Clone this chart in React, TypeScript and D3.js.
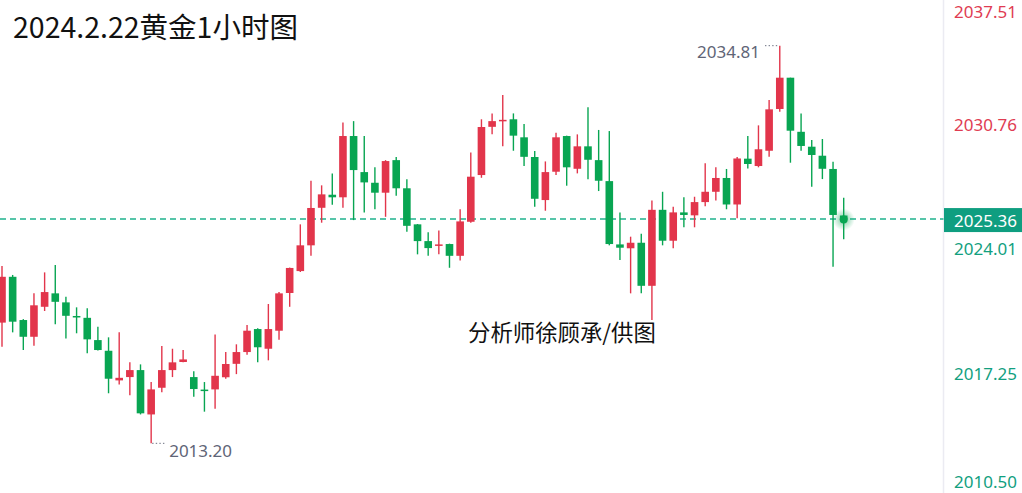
import React from "react";
import * as d3 from "d3";

const opens = [2019.76,2022.25,2019.90,2018.99,2020.62,2021.35,2020.86,2020.12,2020.02,2018.81,2018.23,2016.62,2016.80,2017.18,2014.77,2016.22,2017.18,2017.62,2016.80,2016.12,2016.13,2016.79,2017.52,2018.16,2019.41,2018.34,2019.32,2021.37,2022.56,2023.96,2026.00,2026.71,2026.57,2029.90,2027.94,2027.36,2026.82,2028.59,2027.06,2025.10,2024.19,2023.96,2024.03,2023.39,2025.24,2027.78,2030.40,2030.74,2030.81,2029.83,2028.76,2026.42,2027.96,2029.90,2028.12,2029.34,2028.59,2027.45,2024.01,2023.80,2024.10,2021.76,2025.89,2024.21,2025.75,2025.59,2026.31,2026.87,2027.62,2026.18,2028.67,2028.27,2029.10,2031.37,2033.07,2030.13,2029.32,2028.83,2028.11,2025.58];
const highs = [2022.84,2022.35,2019.95,2021.35,2022.49,2022.89,2021.17,2020.59,2020.54,2019.54,2018.96,2019.23,2017.60,2017.49,2016.53,2018.49,2018.34,2018.27,2017.11,2016.53,2019.12,2018.16,2018.58,2019.63,2019.45,2020.77,2021.42,2022.75,2025.10,2027.47,2027.22,2027.87,2030.64,2030.71,2029.90,2028.20,2028.59,2028.76,2027.55,2025.12,2024.67,2024.76,2024.05,2025.92,2029.01,2030.81,2031.13,2032.13,2031.13,2030.55,2029.08,2028.52,2030.08,2029.92,2029.99,2031.46,2030.23,2030.17,2025.75,2024.43,2024.59,2026.40,2026.87,2026.06,2026.57,2026.60,2028.42,2028.20,2028.11,2028.76,2029.90,2030.48,2031.86,2034.81,2033.07,2031.13,2029.68,2029.74,2028.50,2026.55];
const lows = [2018.45,2019.23,2018.27,2018.50,2020.39,2019.67,2018.90,2019.18,2018.09,2018.24,2015.92,2016.40,2015.81,2014.77,2013.20,2015.97,2016.80,2017.60,2015.73,2014.92,2015.08,2016.71,2016.96,2018.01,2017.60,2017.71,2018.83,2020.62,2022.51,2023.39,2025.19,2026.17,2026.00,2025.33,2025.75,2025.92,2025.51,2026.65,2024.70,2023.47,2023.39,2023.47,2022.74,2023.14,2025.19,2027.63,2029.99,2029.34,2029.10,2028.27,2026.06,2025.84,2027.78,2027.20,2027.87,2027.55,2026.91,2023.96,2023.16,2021.35,2021.35,2019.90,2023.96,2023.80,2024.94,2024.94,2026.08,2026.40,2025.92,2025.43,2028.13,2028.20,2028.77,2031.22,2028.45,2029.10,2027.14,2027.56,2022.80,2024.29];
const closes = [2022.25,2019.81,2018.99,2020.70,2021.42,2020.89,2020.13,2020.05,2018.85,2018.27,2016.71,2016.76,2017.18,2014.83,2016.13,2017.18,2017.60,2017.76,2016.15,2016.08,2016.87,2017.51,2018.16,2019.32,2018.42,2019.41,2021.35,2022.73,2023.96,2025.99,2026.73,2026.57,2029.90,2028.05,2027.38,2026.82,2028.54,2027.06,2025.02,2024.19,2023.81,2024.01,2023.39,2025.26,2027.69,2030.39,2030.71,2030.78,2029.92,2028.77,2026.49,2027.94,2029.83,2028.20,2029.34,2028.61,2027.47,2024.03,2023.83,2024.10,2021.76,2025.89,2024.21,2025.75,2025.61,2026.31,2026.87,2027.62,2026.18,2028.68,2028.38,2029.18,2031.35,2033.07,2030.19,2029.36,2028.87,2028.12,2025.61,2025.36];

const tickValues = [2037.51, 2030.76, 2024.01, 2017.25, 2010.5];
const lastPrice = 2025.36;
const title = "2024.2.22黄金1小时图";
const watermark = "分析师徐顾承/供图";

const RED = "#e2354b";
const GREEN = "#08a552";
const TEAL = "#12a07f";

export default function App() {
  const W = 1022, H = 493;
  const n = opens.length;
  const x = d3.scaleLinear().domain([0, n - 1]).range([2, 843.7]);
  const y = d3.scaleLinear().domain([2010.5, 2037.51]).range([493, -4]);
  const bodyW = 7.6;
  const hiIdx = d3.maxIndex(highs);
  const loIdx = d3.minIndex(lows);
  const lastX = x(n - 1);
  const lastY = y(lastPrice);
  const lineY = Math.floor(lastY);
  const axisX = 943.5;
  const fmt = d3.format(".2f");

  return (
    <div style={{ position: "absolute", left: 0, top: 0 }}>
      <svg width={W} height={H} style={{ display: "block", background: "#fff" }}>
        <defs>
          <radialGradient id="glow">
            <stop offset="0%" stopColor={GREEN} stopOpacity={0.55} />
            <stop offset="100%" stopColor={GREEN} stopOpacity={0} />
          </radialGradient>
        </defs>
        <rect x={0} y={0} width={W} height={H} fill="#fff" />
        <line x1={axisX} x2={axisX} y1={0} y2={H} stroke="#ebebf2" strokeWidth={1.5} />
        <line x1={0} x2={axisX} y1={lineY} y2={lineY} stroke="#1fb28d" strokeWidth={1.5} strokeDasharray="6,4" />
        {opens.map((o, i) => {
          const c = closes[i];
          const up = c >= o;
          const col = up ? RED : GREEN;
          const cx = x(i);
          const top = y(Math.max(o, c));
          const bot = y(Math.min(o, c));
          return (
            <g key={i}>
              <line x1={cx} x2={cx} y1={y(highs[i])} y2={y(lows[i])} stroke={col} strokeWidth={1.4} />
              <rect x={cx - bodyW / 2} y={top} width={bodyW} height={Math.max(1.5, bot - top)} fill={col} />
            </g>
          );
        })}
        <circle cx={lastX} cy={lastY} r={11} fill="url(#glow)" />
        <circle cx={lastX} cy={lastY} r={4} fill={GREEN} />
        <line x1={765} x2={x(hiIdx) - 2} y1={y(highs[hiIdx])} y2={y(highs[hiIdx])} stroke="#6b7080" strokeWidth={1} strokeDasharray="1.4,2.2" />
        <text x={760} y={y(highs[hiIdx]) + 12} textAnchor="end" fontFamily="Noto Sans" fontSize={17} fill="#5f6577">{fmt(highs[hiIdx])}</text>
        <line x1={x(loIdx) + 1} x2={x(loIdx) + 15} y1={y(lows[loIdx])} y2={y(lows[loIdx])} stroke="#6b7080" strokeWidth={1} strokeDasharray="1.4,2.2" />
        <text x={x(loIdx) + 18} y={y(lows[loIdx]) + 13.5} fontFamily="Noto Sans" fontSize={17} fill="#5f6577">{fmt(lows[loIdx])}</text>
        {tickValues.map((t, i) => {
          const by = Math.min(488, Math.max(18.3, y(t) + 11));
          return (
            <text key={i} x={1017} y={by} textAnchor="end" fontFamily="Noto Sans" fontSize={17} fill={t > lastPrice ? "#e03c52" : TEAL}>{fmt(t)}</text>
          );
        })}
        <rect x={944} y={lastY - 11.5} width={78} height={24} fill="#0f9e80" />
        <text x={1017} y={lastY + 7} textAnchor="end" fontFamily="Noto Sans" fontSize={17} fill="#fff">{fmt(lastPrice)}</text>
        <text x={13} y={38} fontFamily="Noto Sans CJK SC" fontSize={28.5} fill="#111">{title}</text>
        <text x={468} y={341} fontFamily="Noto Sans CJK SC" fontSize={22.4} fill="#111">{watermark}</text>
      </svg>
    </div>
  );
}
